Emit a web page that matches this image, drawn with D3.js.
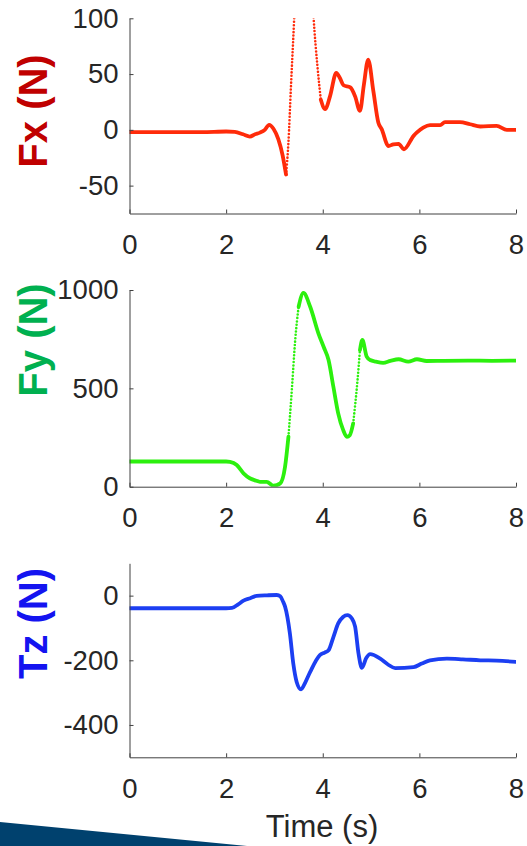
<!DOCTYPE html>
<html>
<head>
<meta charset="utf-8">
<script src="https://cdn.jsdelivr.net/npm/d3@7"></script>
<style>
	body { margin: 0; background: #fff; }
	svg text { font-family: "Liberation Sans", Arial, sans-serif; }
</style>
</head>
<body>
<div id="chart"></div>
<script>
// values (time in s)
var xTicks = [0, 2, 4, 6, 8];

var fxTime = [0, 0.5, 1, 1.5, 2, 2.18, 2.35, 2.49, 2.6, 2.7, 2.8, 2.89, 2.98, 3.08, 3.17, 3.24, 3.29, 3.34, 3.41, 3.48, 3.6, 3.72, 3.81, 3.89, 3.96, 4.05, 4.15, 4.28, 4.36, 4.43, 4.57, 4.67, 4.77, 4.85, 4.94, 5.05, 5.15, 5.22, 5.36, 5.46, 5.57, 5.68, 5.88, 5.95, 6.08, 6.22, 6.43, 6.53, 6.84, 7.05, 7.26, 7.6, 7.81, 8];
var fxValues = [-2, -2, -2, -2, -1.5, -1.8, -4, -6, -4, -2.5, 0, 4.5, 1, -8.4, -23, -40, -11, 37, 101, 170, 220, 180, 101, 57, 27, 18.6, 30, 51, 46, 40, 38, 30, 17, 40, 63, 34, 6.6, 0.6, -14.5, -13, -12.5, -17.4, -5.4, -2.3, 2, 4.2, 4.2, 7, 7, 5, 3, 3.6, 0, 0];
var fxTicks = [-50, 0, 50, 100];

var fyTime = [0, 0.5, 1, 1.5, 2, 2.08, 2.22, 2.36, 2.49, 2.6, 2.7, 2.84, 2.98, 3.12, 3.22, 3.29, 3.36, 3.43, 3.5, 3.6, 3.74, 3.91, 4.02, 4.12, 4.22, 4.32, 4.42, 4.5, 4.56, 4.63, 4.72, 4.77, 4.82, 4.91, 4.98, 5.1, 5.25, 5.4, 5.57, 5.77, 5.95, 6.15, 6.5, 7, 7.5, 8];
var fyValues = [128, 128, 128, 128, 128, 126, 110, 68, 43, 32, 25, 25, 5, 17, 102, 254, 492, 746, 915, 985, 915, 780, 710, 644, 508, 373, 290, 254, 262, 322, 542, 695, 746, 661, 644, 636, 630, 640, 648, 636, 648, 639, 640, 641, 640, 641];
var fyTicks = [0, 500, 1000];

var tzTime = [0, 0.5, 1, 1.5, 2, 2.12, 2.25, 2.36, 2.5, 2.63, 2.85, 3.05, 3.12, 3.18, 3.22, 3.32, 3.39, 3.46, 3.55, 3.64, 3.74, 3.94, 4.04, 4.12, 4.22, 4.32, 4.42, 4.51, 4.6, 4.67, 4.74, 4.81, 4.9, 4.98, 5.19, 5.35, 5.5, 5.88, 6.05, 6.22, 6.57, 6.9, 7.26, 7.6, 8];
var tzValues = [-39, -39, -39, -39, -39, -38, -27, -15.5, -8, -1, 1, 2, -2, -19, -34, -117, -210, -267, -290, -268, -236, -184, -176, -169, -128, -86, -66, -60, -70, -96, -179, -223, -193, -181, -195, -213, -224, -221, -210, -200, -195, -197, -200, -201, -205];
var tzTicks = [-400, -200, 0];

var labelColors = ['#c00000', '#00b050', '#1414f0'];
var lineColors = ['#ff2b0a', '#2cf00e', '#1c3ff2'];

var width = 527, height = 846;
var left = 129.5, right = 516;

var svg = d3.select('#chart')
	.append('svg')
	.attr('width', width)
	.attr('height', height);

var x = d3.scaleLinear().domain([0, 8]).range([left, right]);

var panels = [
	{ name: 'Fx (N)', time: fxTime, values: fxValues, ticks: fxTicks, domain: [-75, 100], range: [213.5, 18.3], labelY: 111 },
	{ name: 'Fy (N)', time: fyTime, values: fyValues, ticks: fyTicks, domain: [0, 1000], range: [486.7, 290], labelY: 340 },
	{ name: 'Tz (N)', time: tzTime, values: tzValues, ticks: tzTicks, domain: [-500, 100], range: [757.3, 563.3], labelY: 623.5 }
];

panels.forEach(function(p, i) {
	var y = d3.scaleLinear().domain(p.domain).range(p.range);
	var g = svg.append('g');

	g.append('clipPath')
		.attr('id', 'clip' + i)
		.append('rect')
		.attr('x', left)
		.attr('y', p.range[1])
		.attr('width', right - left)
		.attr('height', p.range[0] - p.range[1]);

	// split the trace: fast-changing parts show the samples as dots
	var pts = p.time.map(function(t, k){ return [x(t), y(p.values[k])]; });
	var pieces = [];
	for (var k = 0; k < pts.length - 1; k++) {
		var dx = pts[k+1][0] - pts[k][0];
		var dy = Math.abs(pts[k+1][1] - pts[k][1]);
		var sparse = dy / dx > 9.5;
		var last = pieces[pieces.length - 1];
		if (last && last.sparse == sparse) {
			last.pts.push(pts[k+1]);
		} else {
			pieces.push({ sparse: sparse, pts: [pts[k], pts[k+1]] });
		}
	}

	var line = d3.line().curve(d3.curveMonotoneX);
	g.append('g')
		.attr('clip-path', 'url(#clip' + i + ')')
		.selectAll('path')
		.data(pieces)
		.enter().append('path')
		.attr('d', function(d){ return line(d.pts); })
		.attr('fill', 'none')
		.attr('stroke', lineColors[i])
		.attr('stroke-width', function(d){ return d.sparse ? 2.6 : 3.8; })
		.attr('stroke-linecap', 'round')
		.attr('stroke-linejoin', 'round')
		.attr('stroke-dasharray', function(d){ return d.sparse ? '0,3.4' : null; });

	var yAxis = g.append('g')
		.attr('transform', 'translate(' + left + ',0)')
		.call(d3.axisLeft(y).tickValues(p.ticks).tickFormat(String).tickSizeInner(-4).tickSizeOuter(0).tickPadding(11));
	var xAxis = g.append('g')
		.attr('transform', 'translate(0,' + p.range[0] + ')')
		.call(d3.axisBottom(x).tickValues(xTicks).tickFormat(String).tickSizeInner(-4).tickSizeOuter(0).tickPadding(21));

	[yAxis, xAxis].forEach(function(a) {
		a.select('.domain').attr('stroke', '#404040');
		a.selectAll('.tick line').attr('stroke', '#404040');
		a.selectAll('.tick text')
			.attr('fill', '#262626')
			.style('font-size', '27.5px');
	});

	g.append('text')
		.attr('transform', 'translate(47,' + p.labelY + ') rotate(-90)')
		.attr('text-anchor', 'middle')
		.attr('fill', labelColors[i])
		.style('font-size', '40px')
		.style('font-weight', 'bold')
		.text(p.name);
});

svg.append('text')
	.attr('x', 322)
	.attr('y', 837)
	.attr('text-anchor', 'middle')
	.attr('fill', '#262626')
	.style('font-size', '31px')
	.text('Time (s)');

// slide decoration in the corner
svg.append('path')
	.attr('d', 'M0,822L247,846L0,846Z')
	.attr('fill', '#00416e');
</script>
</body>
</html>
